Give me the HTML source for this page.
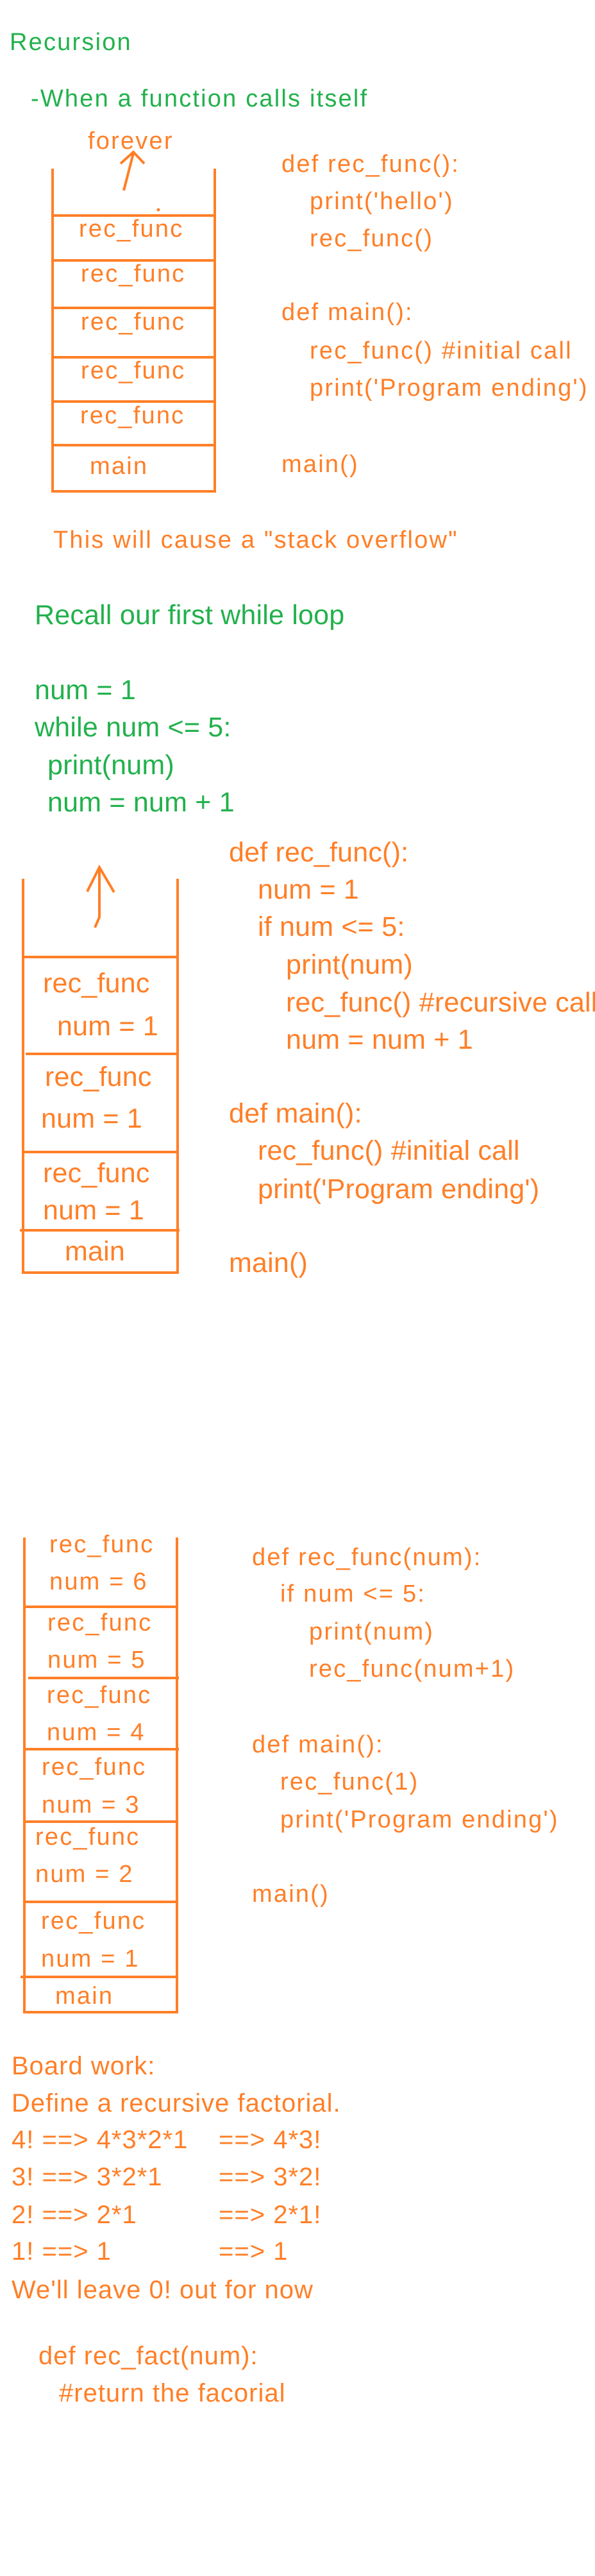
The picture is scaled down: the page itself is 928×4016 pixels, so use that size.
<!DOCTYPE html>
<html><head><meta charset="utf-8"><style>
html,body{margin:0;padding:0;background:#fff;}
svg{display:block;}
.o{fill:#FF7F27;}
.g{fill:#22B14C;}
.a{font-family:"Liberation Sans",sans-serif;font-size:38px;letter-spacing:2.2px;}
.b{font-family:"Liberation Sans",sans-serif;font-size:43px;letter-spacing:0.2px;}
.c{font-family:"Liberation Sans",sans-serif;font-size:40px;letter-spacing:1px;}
line,polyline,rect{stroke:#FF7F27;stroke-width:4;fill:none;}
</style></head><body>
<svg width="928" height="4016" viewBox="0 0 928 4016" xmlns="http://www.w3.org/2000/svg">
<!-- Section 1 -->
<text class="a g" x="15" y="78">Recursion</text>
<text class="a g" x="48" y="166">-When a function calls itself</text>
<text class="a o" x="137" y="232">forever</text>
<polyline points="193,297 200,270 208,239" stroke-width="3"/>
<polyline points="188,255 208,237 225,255" stroke-width="3"/>
<circle cx="247" cy="327" r="2.5" fill="#FF7F27"/>
<line x1="82" y1="263" x2="82" y2="768"/>
<line x1="335" y1="263" x2="335" y2="768"/>
<line x1="80" y1="336" x2="337" y2="336"/>
<line x1="80" y1="406" x2="337" y2="406"/>
<line x1="80" y1="480" x2="337" y2="480"/>
<line x1="80" y1="557" x2="337" y2="557"/>
<line x1="80" y1="626" x2="337" y2="626"/>
<line x1="80" y1="694" x2="337" y2="694"/>
<line x1="80" y1="766" x2="337" y2="766"/>
<text class="a o" x="123" y="369">rec_func</text>
<text class="a o" x="126" y="439">rec_func</text>
<text class="a o" x="126" y="514">rec_func</text>
<text class="a o" x="126" y="590">rec_func</text>
<text class="a o" x="125" y="660">rec_func</text>
<text class="a o" x="140" y="739">main</text>
<text class="a o" x="439" y="268">def rec_func():</text>
<text class="a o" x="483" y="326">print('hello')</text>
<text class="a o" x="483" y="384">rec_func()</text>
<text class="a o" x="439" y="499">def main():</text>
<text class="a o" x="483" y="559">rec_func() #initial call</text>
<text class="a o" x="483" y="617">print('Program ending')</text>
<text class="a o" x="439" y="736">main()</text>
<text class="a o" x="83" y="854">This will cause a "stack overflow"</text>

<!-- Section 2 -->
<text class="b g" x="54" y="973">Recall our first while loop</text>
<text class="b g" x="54" y="1090">num = 1</text>
<text class="b g" x="54" y="1148">while num &lt;=  5:</text>
<text class="b g" x="74" y="1207">print(num)</text>
<text class="b g" x="74" y="1265">num = num + 1</text>
<polyline points="148,1446 155,1430 155,1354" stroke-width="3"/>
<polyline points="136,1390 155,1352 178,1391" stroke-width="3"/>
<line x1="36" y1="1370" x2="36" y2="1986"/>
<line x1="277" y1="1370" x2="277" y2="1986"/>
<line x1="36" y1="1492" x2="277" y2="1492"/>
<line x1="40" y1="1643" x2="277" y2="1643"/>
<line x1="36" y1="1796" x2="277" y2="1796"/>
<line x1="31" y1="1918" x2="280" y2="1918"/>
<line x1="34" y1="1984" x2="279" y2="1984"/>
<text class="b o" x="67" y="1547">rec_func</text>
<text class="b o" x="89" y="1614">num = 1</text>
<text class="b o" x="70" y="1693">rec_func</text>
<text class="b o" x="64" y="1758">num = 1</text>
<text class="b o" x="67" y="1843">rec_func</text>
<text class="b o" x="67" y="1901">num = 1</text>
<text class="b o" x="101" y="1965">main</text>
<text class="b o" x="357" y="1343">def rec_func():</text>
<text class="b o" x="402" y="1401">num = 1</text>
<text class="b o" x="402" y="1459">if num &lt;= 5:</text>
<text class="b o" x="446" y="1518">print(num)</text>
<text class="b o" x="446" y="1577">rec_func() #recursive call</text>
<text class="b o" x="446" y="1635">num = num + 1</text>
<text class="b o" x="357" y="1750">def main():</text>
<text class="b o" x="402" y="1808">rec_func() #initial call</text>
<text class="b o" x="402" y="1868">print('Program ending')</text>
<text class="b o" x="357" y="1983">main()</text>

<!-- Section 3 -->
<line x1="38" y1="2397" x2="38" y2="3139"/>
<line x1="276" y1="2397" x2="276" y2="3139"/>
<line x1="38" y1="2505" x2="276" y2="2505"/>
<line x1="44" y1="2616" x2="279" y2="2616"/>
<line x1="38" y1="2727" x2="279" y2="2727"/>
<line x1="40" y1="2840" x2="276" y2="2840"/>
<line x1="38" y1="2965" x2="278" y2="2965"/>
<line x1="32" y1="3082" x2="276" y2="3082"/>
<line x1="36" y1="3137" x2="278" y2="3137"/>
<text class="a o" x="77" y="2420">rec_func</text>
<text class="a o" x="77" y="2478">num = 6</text>
<text class="a o" x="74" y="2542">rec_func</text>
<text class="a o" x="74" y="2600">num = 5</text>
<text class="a o" x="73" y="2655">rec_func</text>
<text class="a o" x="73" y="2713">num = 4</text>
<text class="a o" x="65" y="2767">rec_func</text>
<text class="a o" x="65" y="2826">num = 3</text>
<text class="a o" x="55" y="2876">rec_func</text>
<text class="a o" x="55" y="2934">num = 2</text>
<text class="a o" x="64" y="3007">rec_func</text>
<text class="a o" x="64" y="3066">num = 1</text>
<text class="a o" x="86" y="3124">main</text>
<text class="a o" x="393" y="2440">def rec_func(num):</text>
<text class="a o" x="437" y="2497">if num &lt;= 5:</text>
<text class="a o" x="482" y="2556">print(num)</text>
<text class="a o" x="482" y="2614">rec_func(num+1)</text>
<text class="a o" x="393" y="2732">def main():</text>
<text class="a o" x="437" y="2790">rec_func(1)</text>
<text class="a o" x="437" y="2849">print('Program ending')</text>
<text class="a o" x="393" y="2965">main()</text>

<!-- Section 4 -->
<text class="c o" x="18" y="3234">Board work:</text>
<text class="c o" x="18" y="3292">Define a recursive factorial.</text>
<text class="c o" x="18" y="3349">4! ==&gt; 4*3*2*1</text>
<text class="c o" x="341" y="3349">==&gt; 4*3!</text>
<text class="c o" x="18" y="3407">3! ==&gt; 3*2*1</text>
<text class="c o" x="341" y="3407">==&gt; 3*2!</text>
<text class="c o" x="18" y="3466">2! ==&gt; 2*1</text>
<text class="c o" x="341" y="3466">==&gt; 2*1!</text>
<text class="c o" x="18" y="3523">1! ==&gt; 1</text>
<text class="c o" x="341" y="3523">==&gt; 1</text>
<text class="c o" x="18" y="3583">We'll leave 0! out for now</text>
<text class="c o" x="60" y="3686">def rec_fact(num):</text>
<text class="c o" x="92" y="3744">#return the facorial</text>
</svg>
</body></html>
